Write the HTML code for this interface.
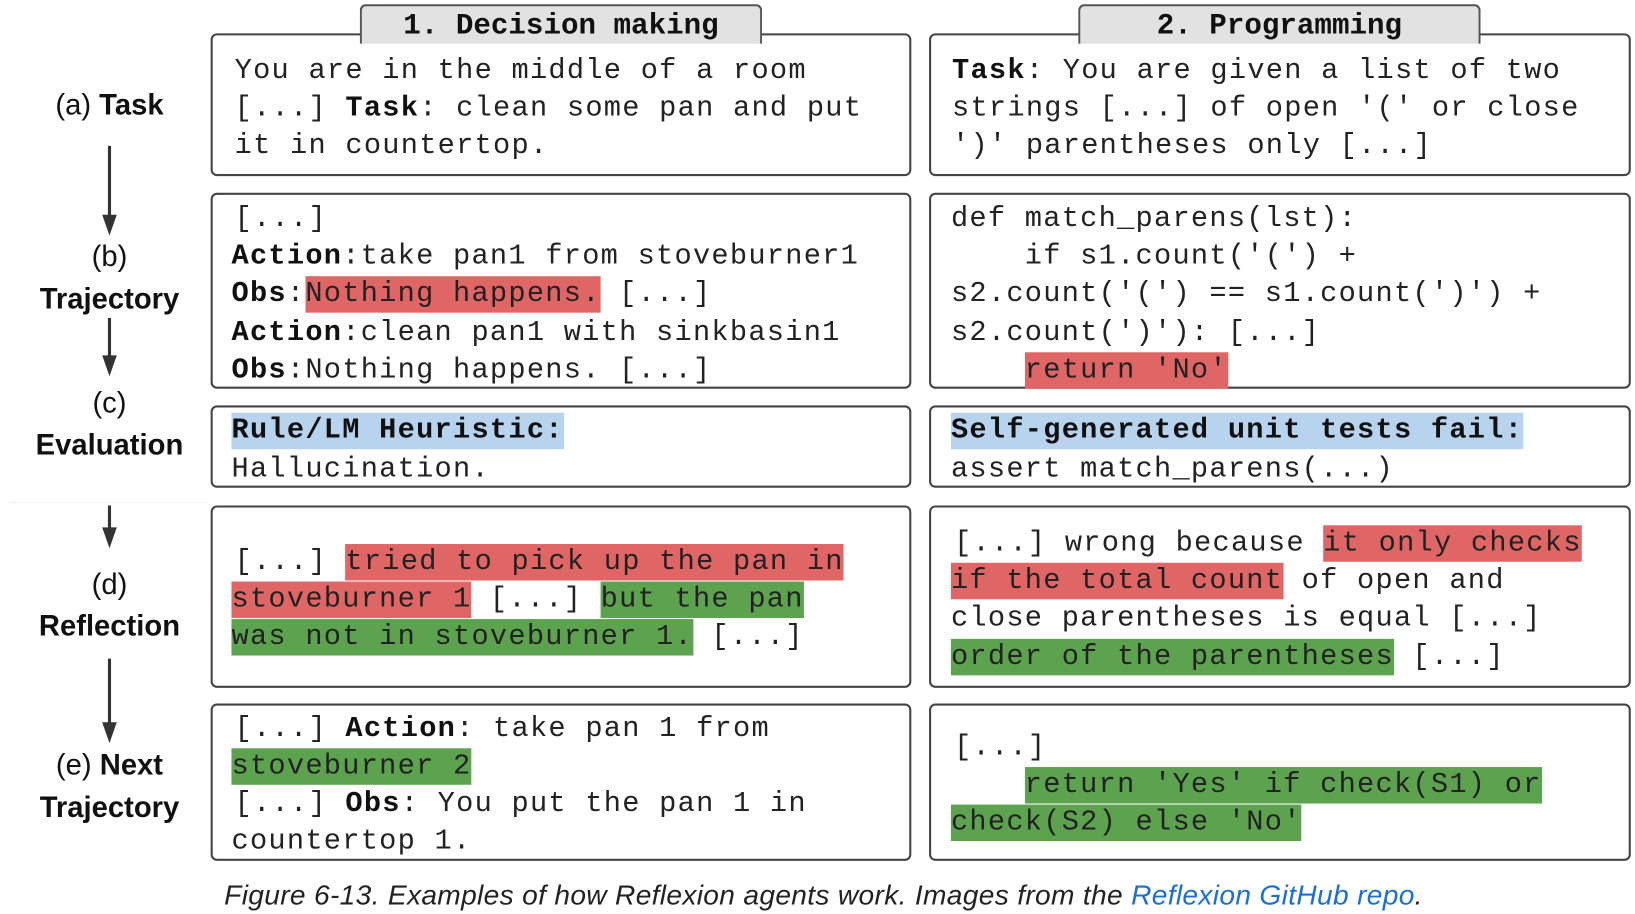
<!DOCTYPE html>
<html><head><meta charset="utf-8"><style>
body{margin:0;background:#fff;width:1635px;height:913px;overflow:hidden}
#w{position:absolute;left:0;top:0;width:1568px;height:876px;transform:scale(1.0427,1.0422);transform-origin:0 0}
.box{position:absolute;border:2.5px solid #444;border-radius:6px;background:#fff;box-sizing:border-box}
.t{position:absolute;font-family:"Liberation Mono",monospace;font-size:27.5px;letter-spacing:1.2px;line-height:36px;white-space:pre;color:#222;margin-top:3px}
.t b{font-weight:bold;color:#111}
.r{background:#e06666;padding:2px 0}.g{background:#5da24f;padding:2px 0}.bl{background:#b7d3ee;padding:2px 0}
.lab{position:absolute;width:200px;left:5px;text-align:center;font-family:"Liberation Sans",sans-serif;font-size:28px;font-weight:bold;line-height:36px;color:#111}
.lab span{font-weight:normal}
.tab{position:absolute;top:4px;height:38px;background:#e2e2e2;border:2.5px solid #555;border-bottom:none;border-radius:6px 6px 0 0;box-sizing:border-box;text-align:center;font-family:"Liberation Mono",monospace;font-weight:bold;font-size:28px;line-height:40px;color:#111;z-index:2}
</style></head><body><div id="w">
<svg width="1568" height="876" style="position:absolute;left:0;top:0">
<g stroke="#333" stroke-width="3">
<line x1="105" y1="140" x2="105" y2="210"/>
<line x1="105" y1="305" x2="105" y2="345"/>
<line x1="105" y1="485" x2="105" y2="510"/>
<line x1="105" y1="632" x2="105" y2="697"/>
</g>
<g fill="#333">
<path d="M98,206 L112,206 L105,226 Z"/>
<path d="M98,341 L112,341 L105,361 Z"/>
<path d="M98,506 L112,506 L105,526 Z"/>
<path d="M98,693 L112,693 L105,713 Z"/>
</g>
<line x1="10" y1="482" x2="200" y2="482" stroke="#eee" stroke-width="1"/>
</svg>
<div class="tab" style="left:345px;width:386px">1. Decision making</div>
<div class="tab" style="left:1034px;width:386px">2. Programming</div>

<div class="box" style="left:202px;top:32px;width:672px;height:137px"></div>
<div class="box" style="left:891px;top:32px;width:673px;height:137px"></div>
<div class="box" style="left:202px;top:185px;width:672px;height:188px"></div>
<div class="box" style="left:891px;top:185px;width:673px;height:188px"></div>
<div class="box" style="left:202px;top:389px;width:672px;height:79px"></div>
<div class="box" style="left:891px;top:389px;width:673px;height:79px"></div>
<div class="box" style="left:202px;top:485px;width:672px;height:175px"></div>
<div class="box" style="left:891px;top:485px;width:673px;height:175px"></div>
<div class="box" style="left:202px;top:675px;width:672px;height:151px"></div>
<div class="box" style="left:891px;top:675px;width:673px;height:151px"></div>

<div class="lab" style="top:83px"><span>(a)</span> Task</div>
<div class="lab" style="top:228px"><span>(b)</span></div>
<div class="lab" style="top:269px">Trajectory</div>
<div class="lab" style="top:369px"><span>(c)</span></div>
<div class="lab" style="top:409px">Evaluation</div>
<div class="lab" style="top:543px"><span>(d)</span></div>
<div class="lab" style="top:583px">Reflection</div>
<div class="lab" style="top:716px"><span>(e)</span> Next</div>
<div class="lab" style="top:757px">Trajectory</div>

<div class="t" style="left:225px;top:48px">You are in the middle of a room</div>
<div class="t" style="left:225px;top:84px">[...] <b>Task</b>: clean some pan and put</div>
<div class="t" style="left:225px;top:120px">it in countertop.</div>
<div class="t" style="left:913px;top:48px"><b>Task</b>: You are given a list of two</div>
<div class="t" style="left:913px;top:84px">strings [...] of open '(' or close</div>
<div class="t" style="left:913px;top:120px">')' parentheses only [...]</div>

<div class="t" style="left:225px;top:190px">[...]</div>
<div class="t" style="left:222px;top:226px"><b>Action</b>:take pan1 from stoveburner1</div>
<div class="t" style="left:222px;top:262px"><b>Obs</b>:<span class="r">Nothing happens.</span> [...]</div>
<div class="t" style="left:222px;top:299px"><b>Action</b>:clean pan1 with sinkbasin1</div>
<div class="t" style="left:222px;top:335px"><b>Obs</b>:Nothing happens. [...]</div>
<div class="t" style="left:912px;top:190px">def match_parens(lst):</div>
<div class="t" style="left:912px;top:226px">    if s1.count('(') +</div>
<div class="t" style="left:912px;top:262px">s2.count('(') == s1.count(')') +</div>
<div class="t" style="left:912px;top:299px">s2.count(')'): [...]</div>
<div class="t" style="left:912px;top:335px">    <span class="r">return 'No'</span></div>

<div class="t" style="left:222px;top:393px"><b class="bl">Rule/LM Heuristic:</b></div>
<div class="t" style="left:222px;top:430px">Hallucination.</div>
<div class="t" style="left:912px;top:393px"><b class="bl">Self-generated unit tests fail:</b></div>
<div class="t" style="left:912px;top:430px">assert match_parens(...)</div>

<div class="t" style="left:225px;top:519px">[...] <span class="r">tried to pick up the pan in</span></div>
<div class="t" style="left:222px;top:555px"><span class="r">stoveburner 1</span> [...] <span class="g">but the pan</span></div>
<div class="t" style="left:222px;top:591px"><span class="g">was not in stoveburner 1.</span> [...]</div>
<div class="t" style="left:915px;top:501px">[...] wrong because <span class="r">it only checks</span></div>
<div class="t" style="left:912px;top:537px"><span class="r">if the total count</span> of open and</div>
<div class="t" style="left:912px;top:573px">close parentheses is equal [...]</div>
<div class="t" style="left:912px;top:610px"><span class="g">order of the parentheses</span> [...]</div>

<div class="t" style="left:225px;top:679px">[...] <b>Action</b>: take pan 1 from</div>
<div class="t" style="left:222px;top:715px"><span class="g">stoveburner 2</span></div>
<div class="t" style="left:225px;top:751px">[...] <b>Obs</b>: You put the pan 1 in</div>
<div class="t" style="left:222px;top:787px">countertop 1.</div>
<div class="t" style="left:915px;top:697px">[...]</div>
<div class="t" style="left:912px;top:733px">    <span class="g">return 'Yes' if check(S1) or</span></div>
<div class="t" style="left:912px;top:769px"><span class="g">check(S2) else 'No'</span></div>

<div style="position:absolute;left:215px;top:841px;font-family:'Liberation Sans',sans-serif;font-style:italic;font-size:27px;line-height:36px;color:#222;white-space:nowrap;letter-spacing:0.3px">Figure 6-13. Examples of how Reflexion agents work. Images from the <span style="color:#1a6fd6">Reflexion GitHub repo</span>.</div>
</div></body></html>
